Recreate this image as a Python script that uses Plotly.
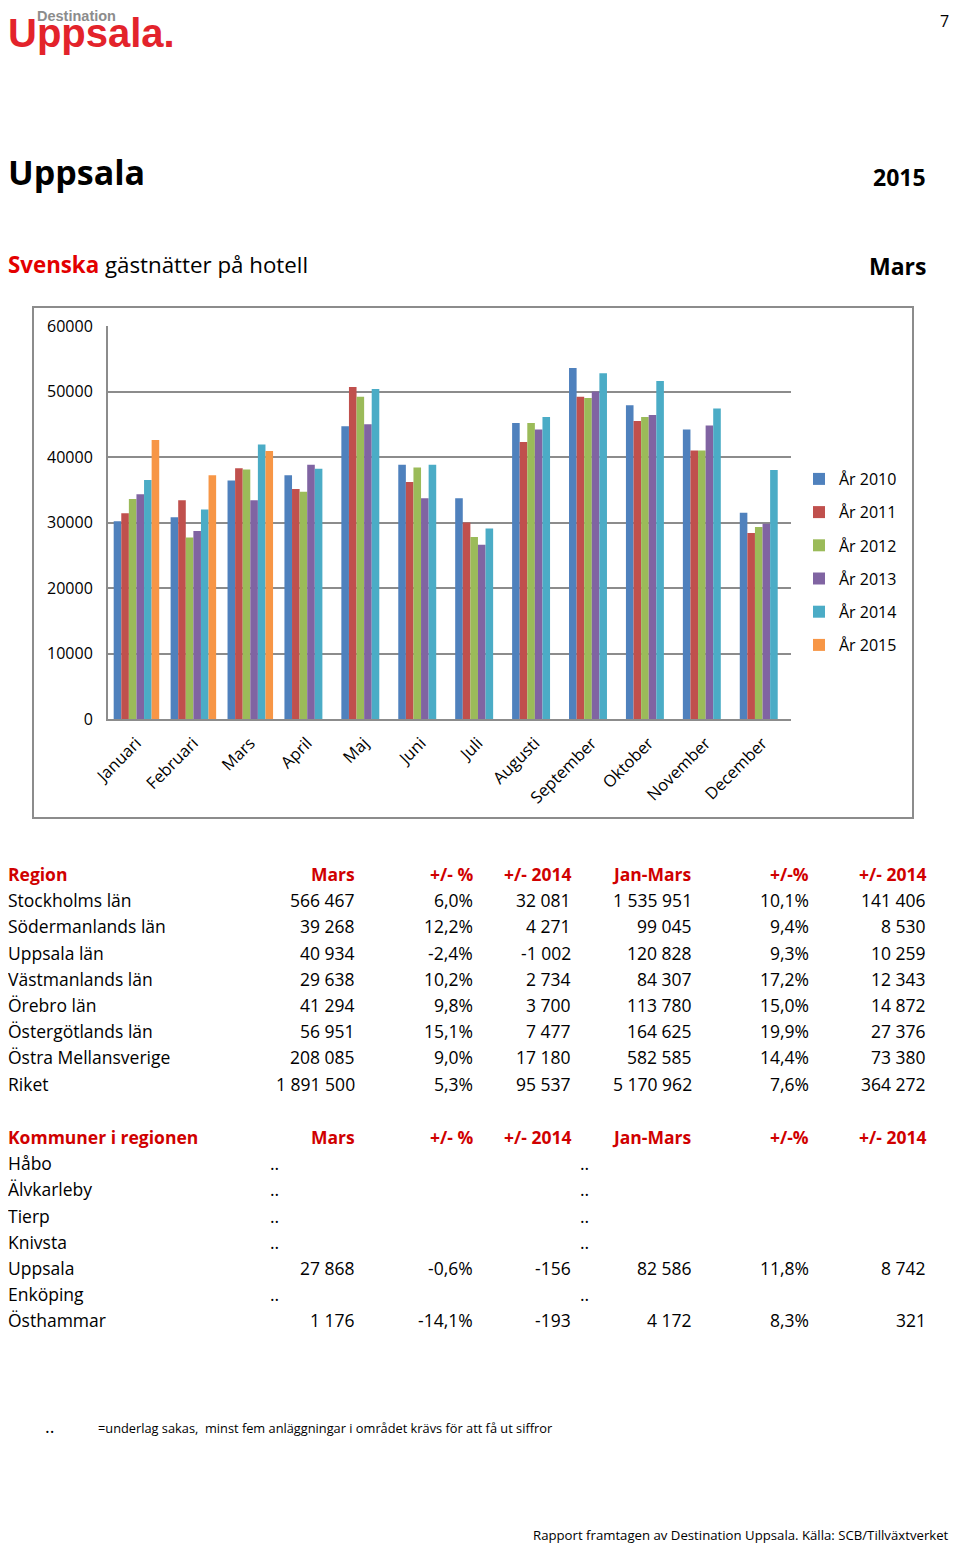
import plotly.graph_objects as go

# The page shows the figure inside an 8 px body margin, so the visible area is
# 944 x 1535 starting at page (8, 8); page coordinates are mapped with that offset.
OFF = 8
W, H = 960 - 2 * OFF, 1551 - 2 * OFF

months = ["Januari", "Februari", "Mars", "April", "Maj", "Juni", "Juli",
          "Augusti", "September", "Oktober", "November", "December"]
years = ["År 2010", "År 2011", "År 2012", "År 2013", "År 2014", "År 2015"]
y2010 = [30200, 30800, 36400, 37200, 44700, 38800, 33700, 45200, 53600, 47900, 44200, 31500]
y2011 = [31400, 33400, 38300, 35100, 50700, 36200, 30000, 42300, 49200, 45500, 41000, 28400]
y2012 = [33600, 27700, 38100, 34700, 49200, 38400, 27800, 45200, 49000, 46100, 41000, 29300]
y2013 = [34300, 28700, 33400, 38800, 45000, 33700, 26600, 44200, 50000, 46400, 44800, 29800]
y2014 = [36500, 32000, 41900, 38200, 50400, 38800, 29100, 46100, 52800, 51600, 47400, 38000]
y2015 = [42600, 37200, 40900, None, None, None, None, None, None, None, None, None]
series = [y2010, y2011, y2012, y2013, y2014, y2015]
colors = ["#4F81BD", "#C0504D", "#9BBB59", "#8064A2", "#4BACC6", "#F79646"]

y_ticks = [0, 10000, 20000, 30000, 40000, 50000, 60000]
y_ticktext = ["0", "10000", "20000", "30000", "40000", "50000", "60000"]

# Table 1
t1_header = ["Region", "Mars", "+/- %", "+/- 2014", "Jan-Mars", "+/-%", "+/- 2014"]
t1_region = ["Stockholms län", "Södermanlands län", "Uppsala län", "Västmanlands län",
             "Örebro län", "Östergötlands län", "Östra Mellansverige", "Riket"]
t1_mars = ["566 467", "39 268", "40 934", "29 638", "41 294", "56 951", "208 085", "1 891 500"]
t1_pct = ["6,0%", "12,2%", "-2,4%", "10,2%", "9,8%", "15,1%", "9,0%", "5,3%"]
t1_diff = ["32 081", "4 271", "-1 002", "2 734", "3 700", "7 477", "17 180", "95 537"]
t1_jm = ["1 535 951", "99 045", "120 828", "84 307", "113 780", "164 625", "582 585", "5 170 962"]
t1_pct2 = ["10,1%", "9,4%", "9,3%", "17,2%", "15,0%", "19,9%", "14,4%", "7,6%"]
t1_diff2 = ["141 406", "8 530", "10 259", "12 343", "14 872", "27 376", "73 380", "364 272"]

# Table 2
t2_header = ["Kommuner i regionen", "Mars", "+/- %", "+/- 2014", "Jan-Mars", "+/-%", "+/- 2014"]
t2_region = ["Håbo", "Älvkarleby", "Tierp", "Knivsta", "Uppsala", "Enköping", "Östhammar"]
t2_mars = ["..", "..", "..", "..", "27 868", "..", "1 176"]
t2_pct = ["", "", "", "", "-0,6%", "", "-14,1%"]
t2_diff = ["", "", "", "", "-156", "", "-193"]
t2_jm = ["..", "..", "..", "..", "82 586", "..", "4 172"]
t2_pct2 = ["", "", "", "", "11,8%", "", "8,3%"]
t2_diff2 = ["", "", "", "", "8 742", "", "321"]

RED = "#D00000"
RED2 = "#E30000"
FONT = "Open Sans, sans-serif"

fig = go.Figure()
for name, vals, col in zip(years, series, colors):
    fig.add_trace(go.Bar(x=months, y=vals, name=name, marker_color=col,
                         marker_line_width=0, legendgroup=name))


def px(x):
    return (x - OFF) / W


def py(y):
    return 1 - (y - OFF) / H


ann = []


def text(x, y, s, size=17.5, color="#000000", anchor="left", bold=False, family=FONT):
    ann.append(dict(x=px(x), y=py(y), xref="paper", yref="paper", text=s,
                    showarrow=False, xanchor=anchor, yanchor="middle",
                    font=dict(size=size, color=color, family=family,
                              weight="bold" if bold else "normal")))


# Logo
text(35, 16, "Destination", size=14.5, color="#8C8C8C", bold=True, family="Liberation Sans, Arial")
text(6, 33, "Uppsala.", size=40, color="#E3232B", bold=True, family="Liberation Sans, Arial")
text(951, 21, "7", size=16, anchor="right")

# Titles
text(6, 172, "Uppsala", size=34, bold=True)
text(928, 177, "2015", size=23, bold=True, anchor="right")
text(6, 265, "<span style='color:%s'><b>Svenska</b></span> gästnätter på hotell" % RED2, size=22.3)
text(928, 266, "Mars", size=23, bold=True, anchor="right")

# Tables
col_right = [357, 475, 573, 694, 811, 928]
dots_left = {0: 268, 3: 578}


def table(header, rows, y0, step=26.2):
    text(6, y0, header[0], color=RED, bold=True)
    for j, h in enumerate(header[1:]):
        text(col_right[j], y0, h, color=RED, bold=True, anchor="right")
    for i, row in enumerate(zip(*rows)):
        y = y0 + step * (i + 1)
        text(6, y, row[0])
        for j, v in enumerate(row[1:]):
            if v == "":
                continue
            if v == ".." and j in dots_left:
                text(dots_left[j], y, v, anchor="left")
            else:
                text(col_right[j], y, v, anchor="right")


table(t1_header, [t1_region, t1_mars, t1_pct, t1_diff, t1_jm, t1_pct2, t1_diff2], 874)
table(t2_header, [t2_region, t2_mars, t2_pct, t2_diff, t2_jm, t2_pct2, t2_diff2], 1137)

# Footnotes
text(43, 1426, "..", size=18)
text(96, 1428, "=underlag sakas,  minst fem anläggningar i området krävs för att få ut siffror", size=12.8)
text(951, 1535, "Rapport framtagen av Destination Uppsala. Källa: SCB/Tillväxtverket", size=13.2, anchor="right")

shapes = [dict(type="rect", xref="paper", yref="paper", x0=px(33), x1=px(913),
               y0=py(818), y1=py(307), line=dict(color="#8C8C8C", width=2))]

fig.update_layout(
    width=W, height=H, margin=dict(l=0, r=0, t=0, b=0, autoexpand=False),
    paper_bgcolor="white", plot_bgcolor="white",
    barmode="group", bargap=0.2, bargroupgap=0,
    font=dict(family=FONT, size=16, color="#000000"),
    xaxis=dict(domain=[px(108), px(791)], anchor="y", tickangle=-45, automargin=False,
               showline=True, linecolor="#8C8C8C", linewidth=2,
               showgrid=False, ticks="", ticklabelstandoff=6, tickfont=dict(size=16.5)),
    yaxis=dict(domain=[py(719), py(326)], range=[0, 60000], tickvals=y_ticks,
               ticktext=y_ticktext, automargin=False,
               showline=True, linecolor="#8C8C8C", linewidth=2,
               showgrid=True, gridcolor="#8C8C8C", gridwidth=2,
               ticks="", ticklabelstandoff=10, tickfont=dict(size=16),
               zeroline=False),
    legend=dict(x=px(799), y=py(462), xanchor="left", yanchor="top",
                font=dict(size=16), tracegroupgap=9.4, traceorder="grouped",
                bgcolor="rgba(0,0,0,0)"),
    annotations=ann, shapes=shapes,
)

fig.write_html("out.html")
